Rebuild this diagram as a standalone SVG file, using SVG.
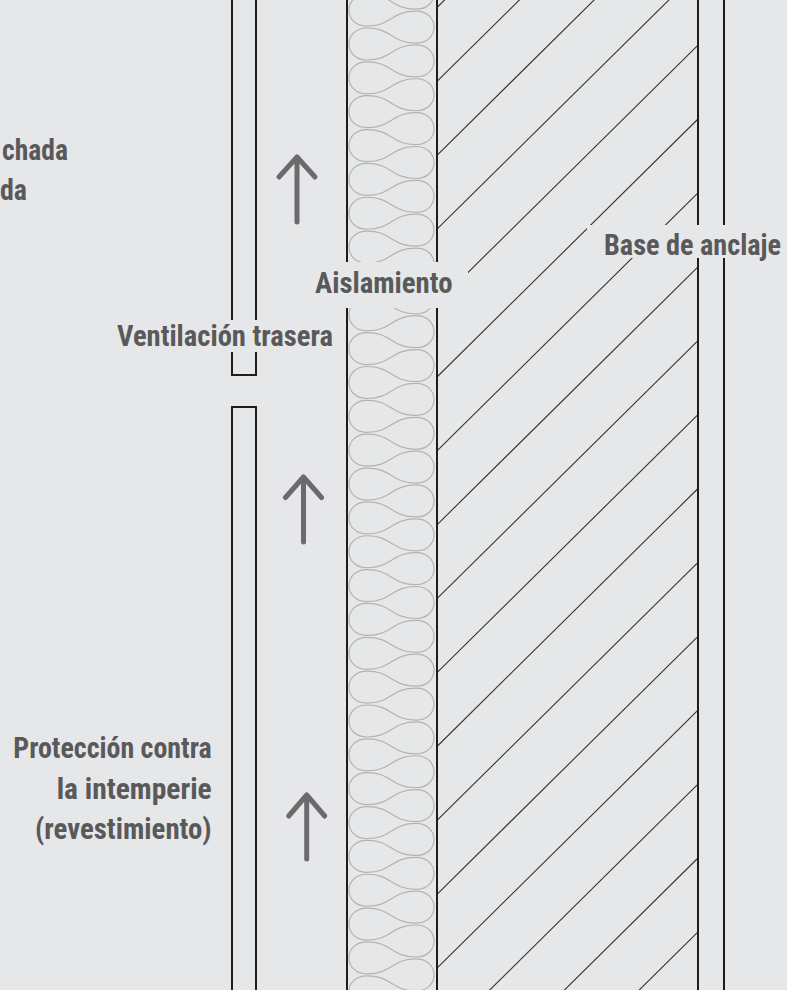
<svg xmlns="http://www.w3.org/2000/svg" width="787" height="990" viewBox="0 0 787 990">
<defs>
<style>
.bg{fill:#e6e7e8}
.wall{stroke:#1d1d1b;stroke-width:2;fill:none}
.hatch{stroke:#333333;stroke-width:1.1;fill:none}
.ins{stroke:#b3b3b3;stroke-width:1.2;fill:none}
.arrow{stroke:#6b6b6d;stroke-width:5;fill:none;stroke-linecap:round;stroke-linejoin:round}
.mask{fill:#e6e7e8}
.lbl{font-family:"Liberation Sans Narrow","Roboto Condensed","DejaVu Sans Condensed","Liberation Sans",sans-serif;font-weight:bold;font-size:30px;fill:#59595b}
</style>
<path id="per" class="ins" d="M367,-16 C343,-16 343,16 367,16 C392,16 391,0.925 416,0.925 C440,0.925 440,32.925 416,32.925 C391,32.925 392,17.85 367,17.85"/>
</defs>
<rect class="bg" x="0" y="0" width="787" height="990"/>

<g id="insulation">
<use href="#per" y="-23.7"/><use href="#per" y="10.15"/><use href="#per" y="44"/><use href="#per" y="77.85"/>
<use href="#per" y="111.7"/><use href="#per" y="145.55"/><use href="#per" y="179.4"/><use href="#per" y="213.25"/>
<use href="#per" y="247.1"/><use href="#per" y="280.95"/><use href="#per" y="314.8"/><use href="#per" y="348.65"/>
<use href="#per" y="382.5"/><use href="#per" y="416.35"/><use href="#per" y="450.2"/><use href="#per" y="484.05"/>
<use href="#per" y="517.9"/><use href="#per" y="551.75"/><use href="#per" y="585.6"/><use href="#per" y="619.45"/>
<use href="#per" y="653.3"/><use href="#per" y="687.15"/><use href="#per" y="721"/><use href="#per" y="754.85"/>
<use href="#per" y="788.7"/><use href="#per" y="822.55"/><use href="#per" y="856.4"/><use href="#per" y="890.25"/>
<use href="#per" y="924.1"/><use href="#per" y="957.95"/><use href="#per" y="991.8"/>
</g>

<g id="masonry-hatch">
<line class="hatch" x1="437" y1="7.5" x2="698" y2="-250.5"/>
<line class="hatch" x1="437" y1="81.4" x2="698" y2="-176.6"/>
<line class="hatch" x1="437" y1="155.3" x2="698" y2="-102.7"/>
<line class="hatch" x1="437" y1="229.2" x2="698" y2="-28.8"/>
<line class="hatch" x1="437" y1="303.1" x2="698" y2="45.1"/>
<line class="hatch" x1="437" y1="377" x2="698" y2="119"/>
<line class="hatch" x1="437" y1="450.9" x2="698" y2="192.9"/>
<line class="hatch" x1="437" y1="524.8" x2="698" y2="266.8"/>
<line class="hatch" x1="437" y1="598.7" x2="698" y2="340.7"/>
<line class="hatch" x1="437" y1="672.6" x2="698" y2="414.6"/>
<line class="hatch" x1="437" y1="746.5" x2="698" y2="488.5"/>
<line class="hatch" x1="437" y1="820.4" x2="698" y2="562.4"/>
<line class="hatch" x1="437" y1="894.3" x2="698" y2="636.3"/>
<line class="hatch" x1="437" y1="968.2" x2="698" y2="710.2"/>
<line class="hatch" x1="437" y1="1042.1" x2="698" y2="784.1"/>
<line class="hatch" x1="437" y1="1116" x2="698" y2="858"/>
<line class="hatch" x1="437" y1="1189.9" x2="698" y2="931.9"/>
</g>

<g id="walls">
<path class="wall" d="M232,-5 V375 H256 V-5"/>
<path class="wall" d="M232,995 V407 H256 V995"/>
<line class="wall" x1="347" y1="-5" x2="347" y2="995"/>
<line class="wall" x1="437" y1="-5" x2="437" y2="995"/>
<line class="wall" x1="698" y1="-5" x2="698" y2="995"/>
<line class="wall" x1="724" y1="-5" x2="724" y2="995"/>
</g>

<g id="connectors">
<path class="arrow" d="M297,222 V157 M279,177 L297,157 L315,177"/>
<path class="arrow" d="M303.5,542 V477 M285.5,497.5 L303.5,477 L321.5,497.5"/>
<path class="arrow" d="M306.7,859 V795 M288.7,816 L306.7,795 L324.7,816"/>
</g>

<g id="label-fachada">
<text class="lbl" x="2" y="160" textLength="66" lengthAdjust="spacingAndGlyphs">chada</text>
<text class="lbl" x="0" y="200" textLength="27" lengthAdjust="spacingAndGlyphs">da</text>
</g>

<g id="label-ventilacion">
<rect class="mask" x="105" y="320" width="235" height="32"/>
<text class="lbl" x="117" y="346" textLength="216" lengthAdjust="spacingAndGlyphs">Ventilación trasera</text>
</g>

<g id="label-aislamiento">
<rect class="mask" x="300" y="262" width="168" height="46"/>
<text class="lbl" x="315" y="292.5" textLength="137.5" lengthAdjust="spacingAndGlyphs">Aislamiento</text>
</g>

<g id="label-base">
<rect class="mask" x="587" y="225" width="200" height="33"/>
<text class="lbl" x="604" y="254.5" textLength="177" lengthAdjust="spacingAndGlyphs">Base de anclaje</text>
</g>

<g id="label-proteccion">
<text class="lbl" x="13.3" y="757.5" textLength="198.4" lengthAdjust="spacingAndGlyphs">Protección contra</text>
<text class="lbl" x="56.7" y="798.5" textLength="155" lengthAdjust="spacingAndGlyphs">la intemperie</text>
<text class="lbl" x="35" y="838.5" textLength="176.7" lengthAdjust="spacingAndGlyphs">(revestimiento)</text>
</g>
</svg>
